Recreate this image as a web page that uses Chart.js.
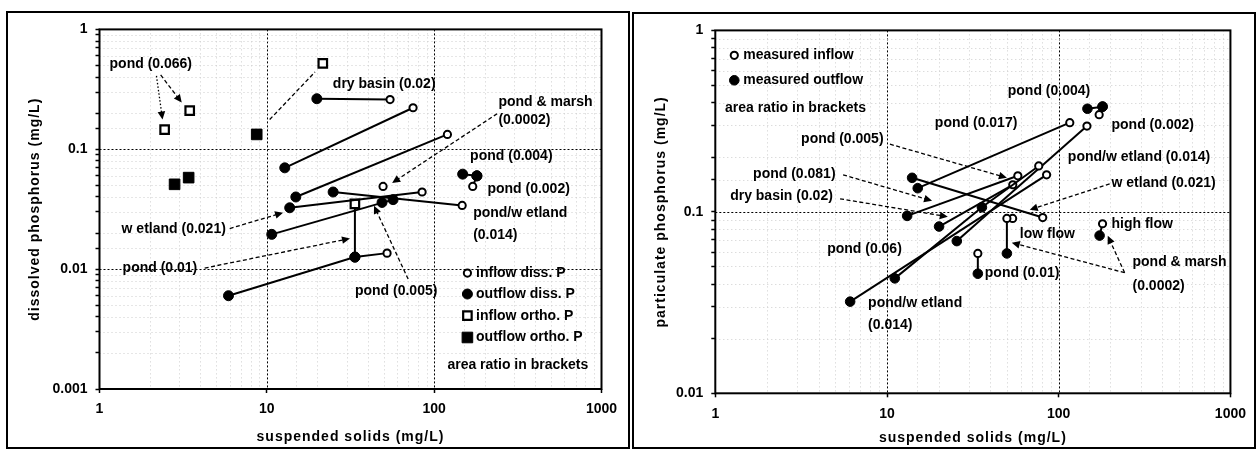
<!DOCTYPE html>
<html><head><meta charset="utf-8">
<script src="https://cdn.jsdelivr.net/npm/chart.js@4.4.1/dist/chart.umd.min.js"></script>
<style>
html,body{margin:0;padding:0;background:#fff;}
body{position:relative;width:1256px;height:458px;overflow:hidden;}
.frame{position:absolute;border:2px solid #000;box-sizing:border-box;}
canvas{position:absolute;}
</style></head><body>
<div class="frame" style="left:6px;top:11px;width:624px;height:438px"></div>
<div class="frame" style="left:632px;top:12px;width:624px;height:437px"></div>
<canvas id="cl" width="620" height="434" style="left:8px;top:13px"></canvas>
<canvas id="cr" width="620" height="434" style="left:634px;top:14px"></canvas>
<script>
// ================= DATA : left panel (dissolved P vs suspended solids) =================
const leftSS    = [19.9, 54.5, 12.8, 74.8, 14.9, 120, 24.9, 147, 13.7, 84.7, 10.7, 56.8, 5.9, 33.6, 52.3, 33.6, 33.6, 148, 180, 170, 180, 49.5, 48.8, 2.45, 3.46, 21.6, 8.7, 2.81, 3.41];
const leftP     = [0.264, 0.26, 0.070, 0.222, 0.040, 0.133, 0.044, 0.034, 0.0325, 0.044, 0.0195, 0.038, 0.006, 0.0126, 0.0136, 0.035, 0.0126, 0.062, 0.060, 0.049, 0.060, 0.049, 0.036, 0.146, 0.21, 0.52, 0.133, 0.051, 0.058];
const leftKind  = ['outDiss','inDiss','outDiss','inDiss','outDiss','inDiss','outDiss','inDiss','outDiss','inDiss','outDiss','outDiss','outDiss','outDiss','inDiss','inOrtho','outDiss','outDiss','outDiss','inDiss','outDiss','inDiss','outDiss','inOrtho','inOrtho','inOrtho','outOrtho','outOrtho','outOrtho'];
const leftTrace = [1,1, 2,2, 3,3, 4,4, 5,5, 6,6, 7,7,7, 8,8, 9,9, 10,10, 0,0, 0,0,0,0,0,0];

const leftLabels = ['pond (0.066)','dry basin (0.02)','pond & marsh','(0.0002)','pond (0.004)','pond (0.002)','pond/w etland','(0.014)','w etland (0.021)','pond (0.01)','pond (0.005)','area ratio in brackets'];
const leftLabelX = [1.148, 24.8, 242, 242, 164, 208, 171, 171, 1.355, 1.374, 33.6, 120];
const leftLabelY = [0.514, 0.351, 0.249, 0.174, 0.0875, 0.0467, 0.0296, 0.0191, 0.0214, 0.0102, 0.00658, 0.00158];

const leftLegendText = ['inflow diss. P','outflow diss. P','inflow ortho. P','outflow ortho. P'];
const leftLegendKind = ['inDiss','outDiss','inOrtho','outOrtho'];
const leftLegendY    = [0.00927, 0.0062, 0.00409, 0.00269];
const leftLegendMarkX = 158, leftLegendTextX = 178;

const leftArrowFrom = [[2.19,0.409],[2.32,0.417],[238,0.198],[6.0,0.0218],[4.25,0.0102],[69.9,0.00826],[10.4,0.177]];
const leftArrowTo   = [[2.38,0.177],[3.10,0.245],[56.1,0.0524],[12.5,0.0296],[31.4,0.018],[43.7,0.0338],[19.4,0.441]];
const leftArrowLine = ['dot','dash','dash','dash','dash','dash','dash'];
const leftArrowHead = [true,true,true,true,true,true,false];

// ================= DATA : right panel (particulate P vs suspended solids) =================
const rightSS    = [6.1, 85, 11.1, 35.7, 76.5, 25.5, 146, 15.1, 116, 14, 80.7, 13.1, 57.8, 20.1, 54, 49.9, 49.9, 33.8, 33.8, 180, 173, 147, 180, 172, 180, 53.9];
const rightP     = [0.032, 0.16, 0.043, 0.106, 0.179, 0.069, 0.297, 0.135, 0.31, 0.154, 0.093, 0.095, 0.158, 0.083, 0.141, 0.092, 0.059, 0.059, 0.0456, 0.086, 0.074, 0.37, 0.38, 0.343, 0.38, 0.092];
const rightKind  = ['out','in','out','out','in','out','in','out','in','out','in','out','in','out','in','in','out','in','out','in','out','out','out','in','out','in'];
const rightTrace = [1,1, 2,2,2, 3,3, 4,4, 5,5, 6,6, 7,7, 8,8, 9,9, 10,10, 11,11, 12,12, 0];

const rightLabels = ['pond (0.005)','pond (0.081)','dry basin (0.02)','pond (0.004)','pond (0.017)','pond (0.002)','pond/w etland (0.014)','w etland (0.021)','high flow','low flow','pond (0.01)','pond & marsh','(0.0002)','pond (0.06)','pond/w etland','(0.014)','area ratio in brackets'];
const rightLabelX = [3.16, 1.66, 1.22, 50.5, 19.0, 203, 113, 203, 203, 59.3, 37.1, 269, 269, 4.48, 7.76, 7.76, 1.14];
const rightLabelY = [0.252, 0.162, 0.1225, 0.462, 0.308, 0.301, 0.2006, 0.144, 0.0859, 0.0757, 0.0462, 0.0525, 0.0392, 0.0626, 0.0312, 0.0236, 0.373];

const rightLegendText = ['measured inflow','measured outflow'];
const rightLegendKind = ['in','out'];
const rightLegendY    = [0.729, 0.531];
const rightLegendMarkX = 1.29, rightLegendTextX = 1.455;

const rightArrowFrom = [[10.4,0.236],[5.55,0.16],[5.33,0.118],[198,0.1425],[242,0.0462],[242,0.0462]];
const rightArrowTo   = [[49.9,0.154],[18.3,0.115],[22.6,0.094],[67.8,0.1026],[193,0.0738],[53.3,0.0676]];
const rightArrowLine = ['dash','dash','dash','dash','dash','dash'];
const rightArrowHead = [true,true,true,true,true,true];

const xTicksRange = [1, 1000];
const leftYRange  = [0.001, 1];
const rightYRange = [0.01, 1];

// ================= rendering =================
const FAMILY = '"Liberation Sans", Arial, Helvetica, sans-serif';
const FONT = 'bold 14px ' + FAMILY;
const isDecade = v => { const l = Math.log10(v); return Math.abs(l - Math.round(l)) < 1e-6; };
const fmtTick = v => String(parseFloat(Number(v).toPrecision(1)));

const leftStyles = {
  inDiss:  {shape:'circle', r:3.6, fill:'#fff', bw:2},
  outDiss: {shape:'circle', r:5,   fill:'#000', bw:1},
  inOrtho: {shape:'rect',   r:6,   fill:'#fff', bw:2.2},
  outOrtho:{shape:'rect',   r:7.5, fill:'#000', bw:1}
};
const rightStyles = {
  in:  {shape:'circle', r:3.6, fill:'#fff', bw:2},
  out: {shape:'circle', r:4.8, fill:'#000', bw:1}
};

function drawMarker(ctx, S, x, y) {
  ctx.save();
  ctx.setLineDash([]);
  ctx.beginPath();
  if (S.shape === 'circle') ctx.arc(x, y, S.r, 0, Math.PI * 2);
  else { const h = S.r * Math.SQRT1_2; ctx.rect(x - h, y - h, 2 * h, 2 * h); }
  ctx.fillStyle = S.fill; ctx.fill();
  ctx.lineWidth = S.bw; ctx.strokeStyle = '#000'; ctx.stroke();
  ctx.restore();
}

function drawArrow(ctx, x1, y1, x2, y2, style, head) {
  ctx.save();
  ctx.strokeStyle = '#000'; ctx.fillStyle = '#000'; ctx.lineWidth = 1.3;
  ctx.setLineDash(style === 'dot' ? [1.5, 2] : [4, 2.5]);
  const a = Math.atan2(y2 - y1, x2 - x1);
  const hl = head ? 8 : 0;
  ctx.beginPath(); ctx.moveTo(x1, y1);
  ctx.lineTo(x2 - Math.cos(a) * hl * 0.8, y2 - Math.sin(a) * hl * 0.8); ctx.stroke();
  if (head) {
    ctx.setLineDash([]);
    ctx.beginPath(); ctx.moveTo(x2, y2);
    ctx.lineTo(x2 - hl * Math.cos(a) + 3.8 * Math.sin(a), y2 - hl * Math.sin(a) - 3.8 * Math.cos(a));
    ctx.lineTo(x2 - hl * Math.cos(a) - 3.8 * Math.sin(a), y2 - hl * Math.sin(a) + 3.8 * Math.cos(a));
    ctx.closePath(); ctx.fill();
  }
  ctx.restore();
}

function logAxis(range, vertical) {
  return {
    type: 'logarithmic', min: range[0], max: range[1],
    ticks: {
      autoSkip: false, maxRotation: 0, minRotation: 0, color: '#000', padding: 8,
      font: {family: FAMILY, size: 14, weight: 'bold'},
      callback: (v) => isDecade(v) ? fmtTick(v) : ''
    },
    grid: {
      display: true, drawOnChartArea: false, drawTicks: true, tickLength: 4, tickWidth: 1.5,
      tickColor: (c) => (vertical || (c.tick && isDecade(c.tick.value))) ? '#000' : 'rgba(0,0,0,0)'
    },
    border: {display: false}
  };
}

function makePanel(id, offset, targetPage, P) {
  const traces = [...new Set(P.trace)];
  const datasets = traces.map(tid => {
    const idx = P.trace.map((t, i) => t === tid ? i : -1).filter(i => i >= 0);
    const st = idx.map(i => P.styles[P.kind[i]]);
    return {
      data: idx.map(i => ({x: P.ss[i], y: P.p[i]})),
      showLine: tid !== 0,
      borderColor: '#000', borderWidth: 2,
      pointStyle: st.map(s => s.shape === 'rect' ? 'rect' : 'circle'),
      pointRadius: st.map(s => s.r),
      pointBackgroundColor: st.map(s => s.fill),
      pointBorderColor: '#000',
      pointBorderWidth: st.map(s => s.bw)
    };
  });

  const plugin = {
    id: 'annot_' + id,
    beforeDatasetsDraw(chart) {
      const ctx = chart.ctx, xs = chart.scales.x, ys = chart.scales.y, ca = chart.chartArea;
      ctx.save();
      ctx.lineWidth = 1;
      for (const t of xs.ticks) {
        const v = t.value;
        if (v <= xs.min * 1.0001 || v >= xs.max * 0.9999) continue;
        const px = Math.round(xs.getPixelForValue(v)) + 0.5;
        const maj = isDecade(v);
        ctx.strokeStyle = maj ? '#000' : '#cdcdcd';
        ctx.setLineDash(maj ? [2, 2] : [1, 3]);
        ctx.beginPath(); ctx.moveTo(px, ca.top); ctx.lineTo(px, ca.bottom); ctx.stroke();
      }
      for (const t of ys.ticks) {
        const v = t.value;
        if (v <= ys.min * 1.0001 || v >= ys.max * 0.9999) continue;
        const py = Math.round(ys.getPixelForValue(v)) + 0.5;
        const maj = isDecade(v);
        ctx.strokeStyle = maj ? '#000' : '#cdcdcd';
        ctx.setLineDash(maj ? [2, 2] : [1, 3]);
        ctx.beginPath(); ctx.moveTo(ca.left, py); ctx.lineTo(ca.right, py); ctx.stroke();
      }
      ctx.restore();
    },
    afterDatasetsDraw(chart) {
      const ctx = chart.ctx, xs = chart.scales.x, ys = chart.scales.y, ca = chart.chartArea;
      const X = v => xs.getPixelForValue(v), Y = v => ys.getPixelForValue(v);
      ctx.save();
      ctx.setLineDash([]); ctx.strokeStyle = '#000'; ctx.lineWidth = 2;
      ctx.strokeRect(ca.left, ca.top, ca.right - ca.left, ca.bottom - ca.top);
      P.arrowFrom.forEach((f, i) => {
        const t = P.arrowTo[i];
        drawArrow(ctx, X(f[0]), Y(f[1]), X(t[0]), Y(t[1]), P.arrowLine[i], P.arrowHead[i]);
      });
      ctx.font = FONT; ctx.fillStyle = '#000'; ctx.textAlign = 'left'; ctx.textBaseline = 'middle';
      P.labels.forEach((s, i) => ctx.fillText(s, X(P.labelX[i]), Y(P.labelY[i])));
      P.legendText.forEach((s, i) => {
        drawMarker(ctx, P.styles[P.legendKind[i]], X(P.legendMarkX), Y(P.legendY[i]));
        ctx.font = FONT; ctx.fillStyle = '#000'; ctx.textAlign = 'left'; ctx.textBaseline = 'middle';
        ctx.fillText(s, X(P.legendTextX), Y(P.legendY[i]));
      });
      ctx.restore();
    },
    afterDraw(chart) {
      const ctx = chart.ctx, ca = chart.chartArea;
      ctx.save();
      ctx.font = FONT; ctx.fillStyle = '#000'; ctx.textAlign = 'center'; ctx.textBaseline = 'middle';
      try { ctx.letterSpacing = '1px'; } catch (e) {}
      ctx.fillText(P.xTitle, (ca.left + ca.right) / 2, ca.bottom + P.xTitleDy);
      ctx.translate(P.yTitleX, (ca.top + ca.bottom) / 2);
      ctx.rotate(-Math.PI / 2);
      ctx.fillText(P.yTitle, 0, 0);
      ctx.restore();
    }
  };

  let pad = {left: 0, right: 20, top: 15, bottom: 0};
  const chart = new Chart(document.getElementById(id), {
    type: 'scatter',
    data: {datasets},
    options: {
      responsive: false, animation: false, devicePixelRatio: 1, events: [],
      layout: {padding: pad},
      plugins: {legend: {display: false}, tooltip: {enabled: false}},
      scales: {x: logAxis(P.xRange, false), y: logAxis(P.yRange, true)}
    },
    plugins: [plugin]
  });
  const tgt = {left: targetPage.left - offset[0], right: targetPage.right - offset[0],
               top: targetPage.top - offset[1], bottom: targetPage.bottom - offset[1]};
  for (let k = 0; k < 4; k++) {
    const ca = chart.chartArea;
    pad = {left: pad.left + (tgt.left - ca.left), top: pad.top + (tgt.top - ca.top),
           right: pad.right + (ca.right - tgt.right), bottom: pad.bottom + (ca.bottom - tgt.bottom)};
    chart.config.options.layout.padding = pad;
    chart.update('none');
  }
  return chart;
}

makePanel('cl', [8, 13], {left: 99.5, top: 28, right: 601.5, bottom: 389}, {
  ss: leftSS, p: leftP, kind: leftKind, trace: leftTrace, styles: leftStyles,
  labels: leftLabels, labelX: leftLabelX, labelY: leftLabelY,
  legendText: leftLegendText, legendKind: leftLegendKind, legendY: leftLegendY,
  legendMarkX: leftLegendMarkX, legendTextX: leftLegendTextX,
  arrowFrom: leftArrowFrom, arrowTo: leftArrowTo, arrowLine: leftArrowLine, arrowHead: leftArrowHead,
  xRange: xTicksRange, yRange: leftYRange,
  xTitle: 'suspended solids (mg/L)', yTitle: 'dissolved phosphorus (mg/L)', xTitleDy: 48, yTitleX: 27
});

makePanel('cr', [634, 14], {left: 715.3, top: 29.3, right: 1231, bottom: 393.3}, {
  ss: rightSS, p: rightP, kind: rightKind, trace: rightTrace, styles: rightStyles,
  labels: rightLabels, labelX: rightLabelX, labelY: rightLabelY,
  legendText: rightLegendText, legendKind: rightLegendKind, legendY: rightLegendY,
  legendMarkX: rightLegendMarkX, legendTextX: rightLegendTextX,
  arrowFrom: rightArrowFrom, arrowTo: rightArrowTo, arrowLine: rightArrowLine, arrowHead: rightArrowHead,
  xRange: xTicksRange, yRange: rightYRange,
  xTitle: 'suspended solids (mg/L)', yTitle: 'particulate phosphorus (mg/L)', xTitleDy: 45, yTitleX: 27
});
</script>
</body></html>
